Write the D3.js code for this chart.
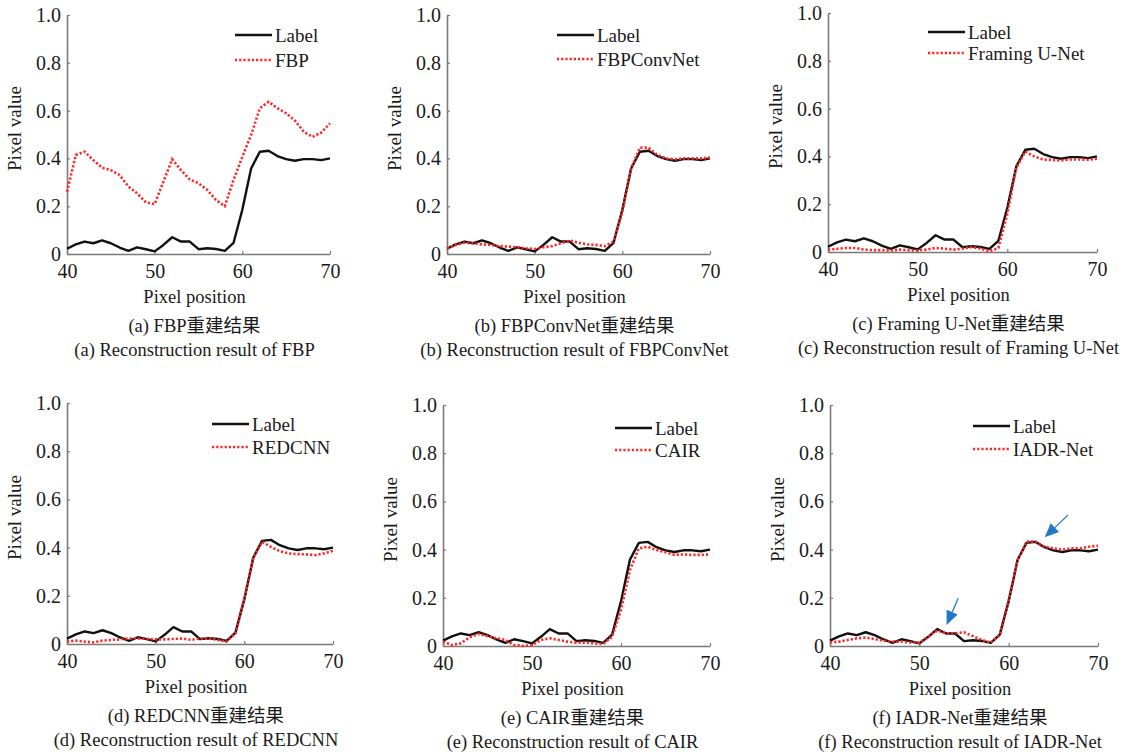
<!DOCTYPE html>
<html>
<head>
<meta charset="utf-8">
<script src="https://cdn.jsdelivr.net/npm/d3@7"></script>
<style>
  body { margin: 0; background: #fff; }
  svg { display: block; }
  text { font-family: "Liberation Serif", "Times New Roman", "Noto Sans CJK SC", serif; fill: #1a1a1a; }
</style>
</head>
<body>
<div id="chart"></div>
<script>
// pixel positions along the profile
const pixelPos = [40,41,42,43,44,45,46,47,48,49,50,51,52,53,54,55,56,57,58,59,60,61,62,63,64,65,66,67,68,69,70];

// ground truth profile
const label = [0.022,0.040,0.052,0.045,0.057,0.045,0.027,0.013,0.028,0.020,0.011,0.038,0.070,0.052,0.052,0.020,0.024,0.021,0.013,0.047,0.185,0.358,0.428,0.432,0.410,0.397,0.390,0.397,0.397,0.393,0.400];

// reconstructions
const fbp = [0.260,0.414,0.428,0.393,0.361,0.351,0.330,0.282,0.254,0.216,0.209,0.303,0.396,0.351,0.312,0.296,0.268,0.226,0.200,0.310,0.407,0.498,0.610,0.637,0.610,0.589,0.558,0.512,0.490,0.508,0.547];
const fbpConvNet = [0.024,0.038,0.047,0.045,0.040,0.038,0.033,0.031,0.028,0.024,0.021,0.028,0.033,0.045,0.056,0.047,0.040,0.038,0.033,0.052,0.175,0.358,0.445,0.445,0.414,0.400,0.396,0.400,0.400,0.400,0.404];
const framingUNet = [0.010,0.013,0.017,0.017,0.010,0.008,0.008,0.006,0.010,0.007,0.006,0.010,0.017,0.014,0.010,0.014,0.021,0.014,0.003,0.017,0.160,0.352,0.420,0.400,0.387,0.385,0.383,0.387,0.387,0.386,0.390];
const redcnn = [0.010,0.014,0.010,0.007,0.014,0.017,0.019,0.023,0.023,0.021,0.019,0.019,0.021,0.023,0.017,0.023,0.023,0.017,0.010,0.044,0.190,0.355,0.424,0.403,0.385,0.376,0.373,0.372,0.369,0.376,0.387];
const cair = [0.018,0.004,0.011,0.036,0.050,0.041,0.032,0.025,0.004,0.000,0.003,0.025,0.032,0.025,0.018,0.014,0.014,0.011,0.008,0.039,0.150,0.315,0.405,0.412,0.398,0.389,0.378,0.380,0.378,0.378,0.380];
const iadrNet = [0.015,0.018,0.025,0.032,0.035,0.029,0.022,0.018,0.018,0.015,0.014,0.039,0.064,0.053,0.053,0.057,0.041,0.025,0.014,0.046,0.190,0.357,0.433,0.433,0.412,0.405,0.400,0.405,0.405,0.412,0.416];

const methodNames = ["FBP", "FBPConvNet", "Framing U-Net", "REDCNN", "CAIR", "IADR-Net"];
const methodSeries = [fbp, fbpConvNet, framingUNet, redcnn, cair, iadrNet];
const panelLetters = ["a", "b", "c", "d", "e", "f"];

const xTicks = [40, 50, 60, 70];
const yTicks = [0, 0.2, 0.4, 0.6, 0.8, 1.0];

// arrows in panel (f): [position, value] of tail and tip
const arrowTails = [[54.35, 0.198], [66.65, 0.544]];
const arrowTips = [[53.05, 0.087], [64.04, 0.451]];

// layout of each panel (pixels)
const layout = [
  { x0: 67,  x1: 330,  yTop: 15,  yBot: 254, legX: 235, legY: 35,  legDy: 25 },
  { x0: 447, x1: 710,  yTop: 15,  yBot: 254, legX: 557, legY: 35,  legDy: 24 },
  { x0: 828, x1: 1097, yTop: 13,  yBot: 252, legX: 928, legY: 32,  legDy: 21 },
  { x0: 67,  x1: 333,  yTop: 403, yBot: 644, legX: 212, legY: 424, legDy: 23 },
  { x0: 443, x1: 710,  yTop: 405, yBot: 646, legX: 615, legY: 428, legDy: 22 },
  { x0: 830, x1: 1098, yTop: 405, yBot: 646, legX: 973, legY: 426, legDy: 23 }
];

const W = 1148, H = 752;
const svg = d3.select("#chart").append("svg")
  .attr("width", W).attr("height", H)
  .attr("viewBox", `0 0 ${W} ${H}`);

const fontSize = 18.5;
const red = "#ff2626", blue = "#1f78c8", axisGrey = "#7a7a7a";

methodNames.forEach((name, i) => {
  const L = layout[i];
  const g = svg.append("g");
  const x = d3.scaleLinear().domain([40, 70]).range([L.x0, L.x1]);
  const y = d3.scaleLinear().domain([0, 1]).range([L.yBot, L.yTop]);
  const mid = (L.x0 + L.x1) / 2;

  // axes
  const xAxis = d3.axisBottom(x).tickValues(xTicks).tickSizeInner(-3).tickSizeOuter(0).tickPadding(10);
  const yAxis = d3.axisLeft(y).tickValues(yTicks).tickSizeInner(-3).tickSizeOuter(0).tickPadding(6)
    .tickFormat(d => d === 0 ? "0" : d.toFixed(1));

  const gx = g.append("g").attr("transform", `translate(0,${L.yBot})`).call(xAxis);
  const gy = g.append("g").attr("transform", `translate(${L.x0},0)`).call(yAxis);
  [gx, gy].forEach(a => {
    a.select(".domain").attr("stroke", axisGrey).attr("stroke-width", 1.6);
    a.selectAll(".tick line").attr("stroke", axisGrey).attr("stroke-width", 1.2);
    a.selectAll(".tick text").attr("font-size", 20).attr("fill", "#1a1a1a")
      .attr("font-family", "Liberation Serif, serif");
  });
  gx.selectAll(".tick text").attr("dy", "0.72em");

  // axis titles
  g.append("text").attr("x", mid - 4).attr("y", L.yBot + 49)
    .attr("text-anchor", "middle").attr("font-size", fontSize).text("Pixel position");
  g.append("text")
    .attr("transform", `translate(${L.x0 - 46},${(L.yTop + L.yBot) / 2 - 6}) rotate(-90)`)
    .attr("text-anchor", "middle").attr("font-size", 19).text("Pixel value");

  // curves
  const line = d3.line().x((d, k) => x(pixelPos[k])).y(d => y(d));
  g.append("path").datum(label).attr("d", line)
    .attr("fill", "none").attr("stroke", "#111").attr("stroke-width", 2.4)
    .attr("stroke-linejoin", "round");
  g.append("path").datum(methodSeries[i]).attr("d", line)
    .attr("fill", "none").attr("stroke", red).attr("stroke-width", 2.6)
    .attr("stroke-dasharray", "2.2,2");

  // legend
  const lg = g.append("g");
  lg.append("line").attr("x1", L.legX).attr("x2", L.legX + 37)
    .attr("y1", L.legY).attr("y2", L.legY)
    .attr("stroke", "#111").attr("stroke-width", 2.6);
  lg.append("line").attr("x1", L.legX).attr("x2", L.legX + 37)
    .attr("y1", L.legY + L.legDy).attr("y2", L.legY + L.legDy)
    .attr("stroke", red).attr("stroke-width", 2.6).attr("stroke-dasharray", "2.2,2");
  lg.append("text").attr("x", L.legX + 40).attr("y", L.legY).attr("dy", "0.35em")
    .attr("font-size", 19).text("Label");
  lg.append("text").attr("x", L.legX + 40).attr("y", L.legY + L.legDy).attr("dy", "0.35em")
    .attr("font-size", 19).text(name);

  // captions
  const ch = panelLetters[i];
  g.append("text").attr("x", mid - 4).attr("y", L.yBot + 78)
    .attr("text-anchor", "middle").attr("font-size", fontSize)
    .text(`(${ch}) ${name}重建结果`);
  g.append("text").attr("x", mid - 4).attr("y", L.yBot + 102)
    .attr("text-anchor", "middle").attr("font-size", fontSize)
    .text(`(${ch}) Reconstruction result of ${name}`);

  // arrows on the last panel
  if (i === 5) {
    arrowTails.forEach((t, k) => {
      const p = arrowTips[k];
      const tx = x(t[0]), ty = y(t[1]), px = x(p[0]), py = y(p[1]);
      const ang = Math.atan2(py - ty, px - tx);
      const headL = 14, headW = 6;
      const bx = px - headL * Math.cos(ang), by = py - headL * Math.sin(ang);
      g.append("line").attr("x1", tx).attr("y1", ty).attr("x2", bx).attr("y2", by)
        .attr("stroke", blue).attr("stroke-width", 1.3);
      const nx = -Math.sin(ang) * headW, ny = Math.cos(ang) * headW;
      g.append("path")
        .attr("d", `M${px},${py}L${bx + nx},${by + ny}L${bx - nx},${by - ny}Z`)
        .attr("fill", blue);
    });
  }
});
</script>
</body>
</html>
